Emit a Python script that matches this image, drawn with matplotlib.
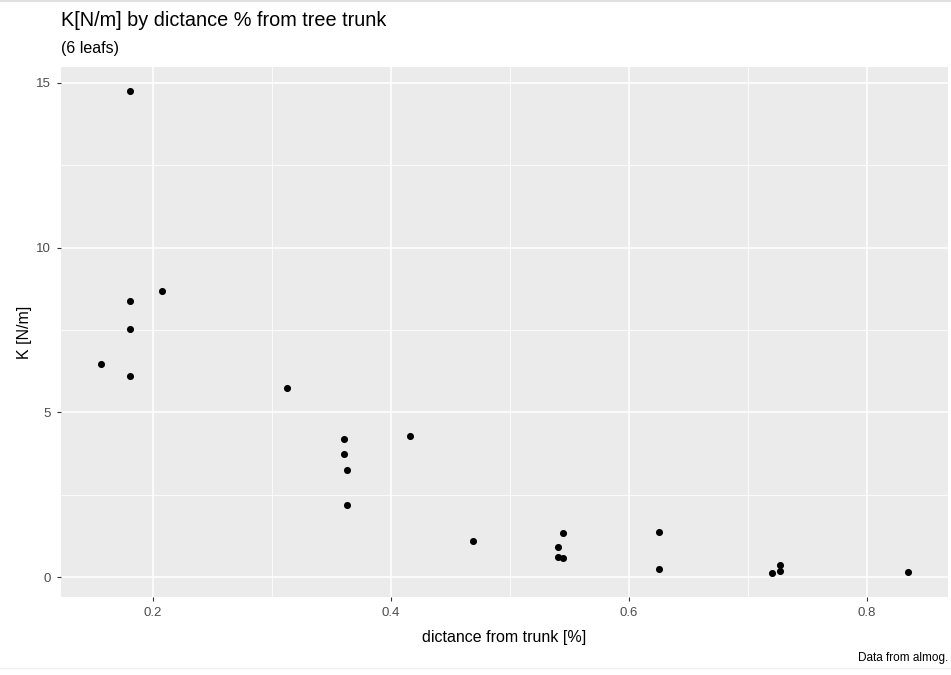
import matplotlib.pyplot as plt
from matplotlib.ticker import MultipleLocator
from matplotlib.lines import Line2D

plt.rcParams['font.family'] = ['Liberation Sans', 'DejaVu Sans']

# distance from trunk (fraction) and spring constant K [N/m]
dist = [0.181, 0.1807, 0.2078, 0.1807, 0.157, 0.181,
        0.313, 0.3606, 0.3606, 0.3633, 0.3633, 0.416,
        0.469, 0.545, 0.5408, 0.5408, 0.545,
        0.6248, 0.6248, 0.720, 0.7267, 0.7267, 0.834]
k_val = [14.75, 8.38, 8.69, 7.52, 6.47, 6.10,
         5.75, 4.20, 3.74, 3.25, 2.20, 4.27,
         1.11, 1.34, 0.92, 0.62, 0.57,
         1.37, 0.24, 0.13, 0.36, 0.20, 0.17]

W, H = 951, 675
fig = plt.figure(figsize=(W / 100, H / 100), dpi=100)
ax = fig.add_axes([61 / W, (H - 597) / H, (948 - 61) / W, (597 - 67) / H])

ax.set_facecolor('#EBEBEB')
ax.scatter(dist, k_val, s=26, color='black', zorder=3, linewidths=0)

# ggplot-like 5% expansion
xr = max(dist) - min(dist)
yr = max(k_val) - min(k_val)
ax.set_xlim(min(dist) - 0.05 * xr, max(dist) + 0.05 * xr)
ax.set_ylim(min(k_val) - 0.05 * yr, max(k_val) + 0.05 * yr)

ax.xaxis.set_major_locator(MultipleLocator(0.2))
ax.xaxis.set_minor_locator(MultipleLocator(0.1))
ax.yaxis.set_major_locator(MultipleLocator(5))
ax.yaxis.set_minor_locator(MultipleLocator(2.5))

ax.grid(which='major', color='white', lw=1.1, zorder=0)
ax.grid(which='minor', color='white', lw=0.55, zorder=0)
ax.set_axisbelow(True)
for s in ax.spines.values():
    s.set_visible(False)

ax.tick_params(which='major', length=3, width=0.8, color='#333333',
               labelcolor='#4D4D4D', labelsize=9.5, pad=4)
ax.tick_params(which='minor', length=0)
ax.xaxis.set_major_formatter(plt.FuncFormatter(lambda v, p: f'{v:g}'))

ax.set_xlabel('dictance from trunk [%]', fontsize=11.5, color='black', labelpad=8)
ax.set_ylabel('K [N/m]', fontsize=11.5, color='black', labelpad=3)

fig.text(61 / W, 1 - 20 / H, 'K[N/m] by dictance % from tree trunk',
         fontsize=14.3, va='center', ha='left')
fig.text(61 / W, 1 - 48 / H, '(6 leafs)', fontsize=11.5, va='center', ha='left')
fig.text(948 / W, 1 - 658 / H, 'Data from almog.', fontsize=8.5,
         va='center', ha='right')

# faint screenshot border lines
fig.add_artist(Line2D([0, 1], [1 - 1 / H, 1 - 1 / H], color='#E0E0E0', lw=1.5,
                      transform=fig.transFigure))
fig.add_artist(Line2D([0, 1], [1 - 668 / H, 1 - 668 / H], color='#EEEEEE', lw=1,
                      transform=fig.transFigure))

fig.savefig('out.png', dpi=100)
